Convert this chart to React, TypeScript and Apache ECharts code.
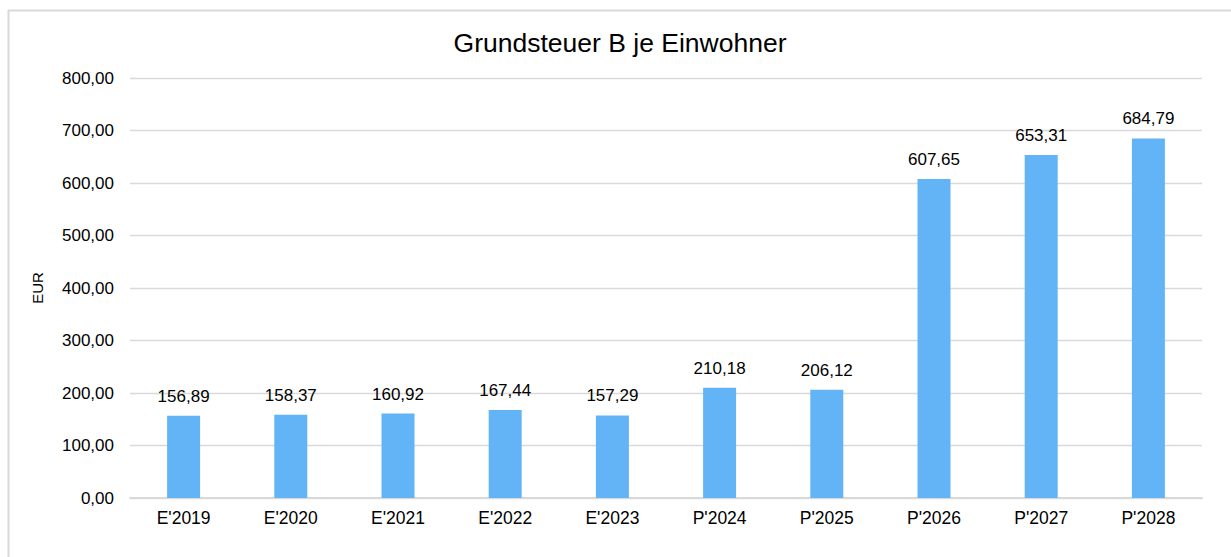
import React, { useEffect, useRef } from "react";
import * as echarts from "echarts";

const categories = ["E'2019", "E'2020", "E'2021", "E'2022", "E'2023", "P'2024", "P'2025", "P'2026", "P'2027", "P'2028"];
const values = [156.89, 158.37, 160.92, 167.44, 157.29, 210.18, 206.12, 607.65, 653.31, 684.79];
const titleText = "Grundsteuer B je Einwohner";
const yAxisName = "EUR";

const FONT = "'Liberation Sans', Arial, sans-serif";
const fmt = (v: number) => v.toFixed(2).replace(".", ",");

export default function App() {
  const ref = useRef<HTMLDivElement>(null);
  useEffect(() => {
    if (!ref.current) return;
    const chart = echarts.init(ref.current, undefined, { renderer: "svg" });
    chart.setOption({
      animation: false,
      backgroundColor: "#ffffff",
      title: {
        text: titleText,
        left: 620,
        top: 29,
        textAlign: "center",
        padding: 0,
        textStyle: { fontFamily: FONT, fontSize: 26.5, fontWeight: "normal", color: "#000" },
      },
      graphic: [
        { type: "line", shape: { x1: 8, y1: 10.5, x2: 1231, y2: 10.5 }, style: { stroke: "#d9d9d9", lineWidth: 2 } },
        { type: "line", shape: { x1: 8.5, y1: 10, x2: 8.5, y2: 557 }, style: { stroke: "#d9d9d9", lineWidth: 2 } },
      ],
      grid: { left: 130, right: 29, top: 78, bottom: 59, containLabel: false },
      xAxis: {
        type: "category",
        data: categories,
        axisLine: { lineStyle: { color: "#d9d9d9", width: 2 } },
        axisTick: { show: false },
        axisLabel: { fontFamily: FONT, fontSize: 17.5, color: "#000", margin: 11 },
      },
      yAxis: {
        type: "value",
        min: 0,
        max: 800,
        interval: 100,
        name: yAxisName,
        nameLocation: "middle",
        nameGap: 85,
        nameRotate: 90,
        nameTextStyle: { fontFamily: FONT, fontSize: 15, color: "#000" },
        axisLine: { show: false },
        axisTick: { show: false },
        axisLabel: { fontFamily: FONT, fontSize: 17, color: "#000", margin: 16, formatter: (v: number) => fmt(v) },
        splitLine: { lineStyle: { color: "#d9d9d9", width: 1.3 } },
      },
      series: [
        {
          type: "bar",
          data: values,
          barWidth: 33,
          itemStyle: { color: "#63b4f6" },
          label: {
            show: true,
            position: "top",
            distance: 11,
            fontFamily: FONT,
            fontSize: 17,
            color: "#000",
            formatter: (p: any) => fmt(p.value),
          },
        },
      ],
    });
    return () => chart.dispose();
  }, []);
  return <div ref={ref} style={{ position: "fixed", left: 0, top: 0, width: 1231, height: 557 }} />;
}
